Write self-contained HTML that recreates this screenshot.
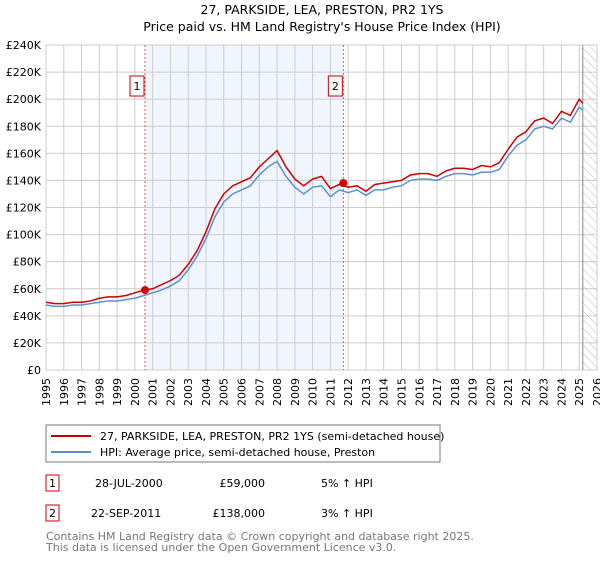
<!DOCTYPE html>
<html><head><meta charset="utf-8"><style>
body{margin:0;background:#fff;font-family:"Liberation Sans","DejaVu Sans",sans-serif;}
svg text{font-family:"DejaVu Sans","Liberation Sans",sans-serif;}
</style></head><body>
<svg id="c" width="600" height="560" xmlns="http://www.w3.org/2000/svg">
<defs><pattern id="hatch" width="6" height="6" patternUnits="userSpaceOnUse" patternTransform="rotate(-45)"><line x1="0" y1="0" x2="0" y2="6" stroke="#bbb" stroke-width="1"/></pattern></defs>
<text x="322" y="14" font-size="12.5" text-anchor="middle">27, PARKSIDE, LEA, PRESTON, PR2 1YS</text>
<text x="322" y="31" font-size="12.5" text-anchor="middle">Price paid vs. HM Land Registry's House Price Index (HPI)</text>
<g id="plot"></g>
<rect x="46" y="425" width="394" height="37" fill="#fff" stroke="#777"/>
<line x1="51" y1="436" x2="91" y2="436" stroke="#cc0000" stroke-width="2"/>
<text x="100" y="440" font-size="11">27, PARKSIDE, LEA, PRESTON, PR2 1YS (semi-detached house)</text>
<line x1="51" y1="452" x2="91" y2="452" stroke="#5b8fd6" stroke-width="2"/>
<text x="100" y="456" font-size="11">HPI: Average price, semi-detached house, Preston</text>
<g>
<rect x="46" y="475" width="13" height="16" fill="#fff" stroke="#cc0000"/><text x="52.5" y="487" font-size="11" text-anchor="middle">1</text>
<text x="95" y="487" font-size="11">28-JUL-2000</text><text x="265" y="487" font-size="11" text-anchor="end">£59,000</text><text x="321" y="487" font-size="11">5% ↑ HPI</text></g>
<g>
<rect x="46" y="505" width="13" height="16" fill="#fff" stroke="#cc0000"/><text x="52.5" y="517" font-size="11" text-anchor="middle">2</text>
<text x="91" y="517" font-size="11">22-SEP-2011</text><text x="265" y="517" font-size="11" text-anchor="end">£138,000</text><text x="321" y="517" font-size="11">3% ↑ HPI</text></g>
<text x="46" y="540" font-size="11" fill="#777">Contains HM Land Registry data © Crown copyright and database right 2025.</text>
<text x="46" y="551" font-size="11" fill="#777">This data is licensed under the Open Government Licence v3.0.</text>
</svg>
<script>
const years=[1995,1995.5,1996,1996.5,1997,1997.5,1998,1998.5,1999,1999.5,2000,2000.5,2001,2001.5,2002,2002.5,2003,2003.5,2004,2004.5,2005,2005.5,2006,2006.5,2007,2007.5,2008,2008.5,2009,2009.5,2010,2010.5,2011,2011.5,2012,2012.5,2013,2013.5,2014,2014.5,2015,2015.5,2016,2016.5,2017,2017.5,2018,2018.5,2019,2019.5,2020,2020.5,2021,2021.5,2022,2022.5,2023,2023.5,2024,2024.5,2025,2025.2];
const hpi=[48,47,47,48,48,49,50,51,51,52,53,55,57,59,62,66,74,84,97,113,124,130,133,136,144,150,154,143,135,130,135,136,128,133,131,133,129,133,133,135,136,140,141,141,140,143,145,145,144,146,146,148,158,166,170,178,180,178,186,183,194,192];
const price=[50,49,49,50,50,51,53,54,54,55,57,59,60,63,66,70,78,88,102,119,130,136,139,142,150,156,162,150,141,136,141,143,134,137,135,136,132,137,138,139,140,144,145,145,143,147,149,149,148,151,150,153,163,172,176,184,186,182,191,188,200,197];
const sales=[[2000.57,59000],[2011.73,138000]];
const yTicks=[0,20,40,60,80,100,120,140,160,180,200,220,240];
const x0=46,x1=597,y0=370,y1=45;
const X=y=>x0+(y-1995)/31*(x1-x0);
const Y=v=>y0-v/240*(y0-y1);
const g=document.getElementById('plot');const NS='http://www.w3.org/2000/svg';
function el(t,a,p){const e=document.createElementNS(NS,t);for(const k in a)e.setAttribute(k,a[k]);(p||g).appendChild(e);return e;}
const bg=el('rect',{x:x0,y:y1,width:x1-x0,height:y0-y1,fill:'#fff'});
const sh=el('rect',{x:X(2000.57),y:y1,width:X(2011.73)-X(2000.57),height:y0-y1,fill:'#eef3fc',opacity:0.8});


for(let yr=1995;yr<=2026;yr++){const l=el('line',{x1:X(yr),x2:X(yr),y1:y1,y2:y0,stroke:'#ccc'});
const t=el('text',{x:X(yr),y:y0+8,'font-size':11,'text-anchor':'end',transform:`rotate(-90 ${X(yr)} ${y0+8})`,dy:4});t.textContent=yr;

}
yTicks.forEach(v=>{el('line',{x1:x0,x2:x1,y1:Y(v),y2:Y(v),stroke:'#ccc'});
const t=el('text',{x:x0-5,y:Y(v)+4,'font-size':11,'text-anchor':'end'});t.textContent='£'+(v?v+'K':'0');

});
const hz=el('rect',{x:X(2025.2),y:y1,width:x1-X(2025.2),height:y0-y1,fill:'url(#hatch)'});


el('line',{x1:X(2025.2),x2:X(2025.2),y1:y1,y2:y0,stroke:'#888'});
el('rect',{x:x0,y:y1,width:x1-x0,height:y0-y1,fill:'none',stroke:'#ccc'});
function line(vals,col,name){const p=el('polyline',{points:years.map((y,i)=>X(y)+','+Y(vals[i])).join(' '),fill:'none',stroke:col,'stroke-width':1.5});

}
line(hpi,'#5b8fd6','hpi-line');line(price,'#cc0000','property-line');
sales.forEach((s,i)=>{el('line',{x1:X(s[0]),x2:X(s[0]),y1:y1,y2:y0,stroke:'#e05555','stroke-dasharray':'2,2'});
const c=el('circle',{cx:X(s[0]),cy:Y(s[1]/1000),r:4,fill:'#cc0000'});


el('rect',{x:X(s[0])-15,y:76,width:14,height:20,fill:'#fff',stroke:'#cc0000'});
const t=el('text',{x:X(s[0])-8,y:90,'font-size':11,'text-anchor':'middle'});t.textContent=i+1;

});
</script>
</body></html>
